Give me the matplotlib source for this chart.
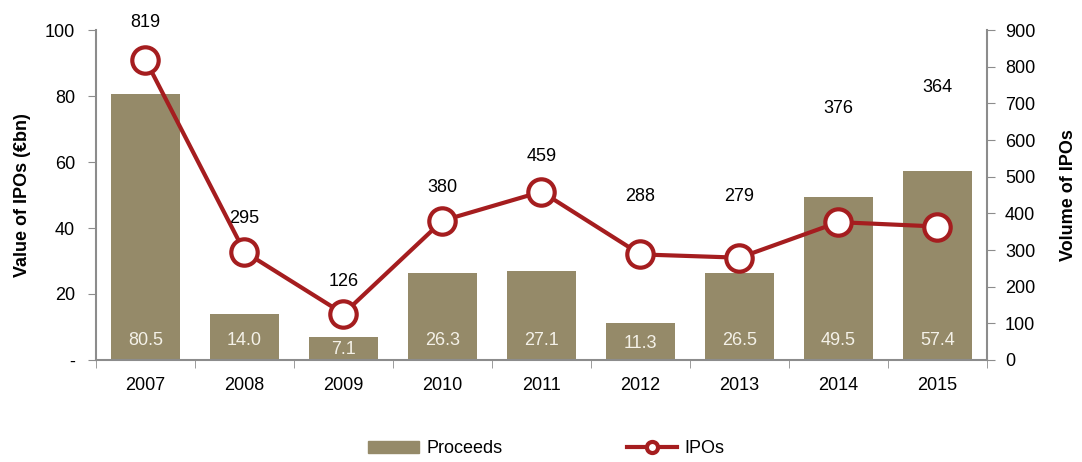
import matplotlib.pyplot as plt
import numpy as np

plt.rcParams['font.family'] = ['Liberation Sans', 'DejaVu Sans']

# data
years = ['2007', '2008', '2009', '2010', '2011', '2012', '2013', '2014', '2015']
proceeds = [80.5, 14.0, 7.1, 26.3, 27.1, 11.3, 26.5, 49.5, 57.4]
ipos = [819, 295, 126, 380, 459, 288, 279, 376, 364]

# label offsets above the markers (points)
label_offsets = [27, 24, 23, 24, 25, 42, 44, 82, 100]

bar_color = '#958a69'
line_color = '#a51d1f'
axis_color = '#8c8c8c'
fs = 13

x = np.arange(len(years))

fig = plt.figure(figsize=(10.82, 4.62), dpi=100)
ax = fig.add_axes([0.0887, 0.2208, 0.8235, 0.7142])
ax2 = ax.twinx()

ax.bar(x, proceeds, width=0.7, color=bar_color, zorder=2)
for xi, v in zip(x, proceeds):
    ax.text(xi, min(6, v * 0.45), f'{v:.1f}', ha='center', va='center',
            color='#f4f1e8', fontsize=fs, zorder=3)

ax2.plot(x, ipos, color=line_color, lw=3, marker='o', ms=19,
         mfc='white', mec=line_color, mew=3, zorder=4)
for xi, v, off in zip(x, ipos, label_offsets):
    ax2.annotate(str(v), (xi, v), xytext=(0, off), textcoords='offset points',
                 ha='center', va='center', fontsize=fs)

ax.set_xlim(-0.5, len(years) - 0.5)
ax.set_ylim(0, 100)
ax2.set_ylim(0, 900)

ax.set_yticks([0, 20, 40, 60, 80, 100])
ax.set_yticklabels(['-', '20', '40', '60', '80', '100'])
ax2.set_yticks(np.arange(0, 901, 100))

ax.set_xticks(x)
ax.set_xticklabels(years)
ax.set_xticks(np.arange(-0.5, len(years)), minor=True)
ax.tick_params(axis='x', which='major', length=0, pad=12, labelsize=fs)
ax.tick_params(axis='x', which='minor', length=6, color=axis_color)
ax.tick_params(axis='y', length=6, color=axis_color, labelsize=fs, pad=9)
ax2.tick_params(axis='y', length=6, color=axis_color, labelsize=fs, pad=7)

for a in (ax, ax2):
    a.spines['top'].set_visible(False)
    for s in ('left', 'right', 'bottom'):
        a.spines[s].set_color(axis_color)
        a.spines[s].set_linewidth(1.5)
ax.spines['right'].set_visible(False)
ax2.spines['left'].set_visible(False)
ax2.spines['bottom'].set_visible(False)

ax.set_ylabel('Value of IPOs (€bn)', fontsize=fs, fontweight='bold', labelpad=10)
ax2.set_ylabel('Volume of IPOs', fontsize=fs, fontweight='bold', labelpad=18)

h1 = plt.Rectangle((0, 0), 1, 1, color=bar_color)
h2, = ax2.plot([], [], color=line_color, lw=3, marker='o', ms=8,
               mfc='white', mec=line_color, mew=3)
fig.legend([h1, h2], ['Proceeds', 'IPOs'], loc='lower center',
           bbox_to_anchor=(0.505, -0.025), ncol=2, frameon=False,
           fontsize=fs, columnspacing=6.9, handlelength=2.8, handleheight=0.6,
           handletextpad=0.4)

fig.savefig('out.png', dpi=100)
